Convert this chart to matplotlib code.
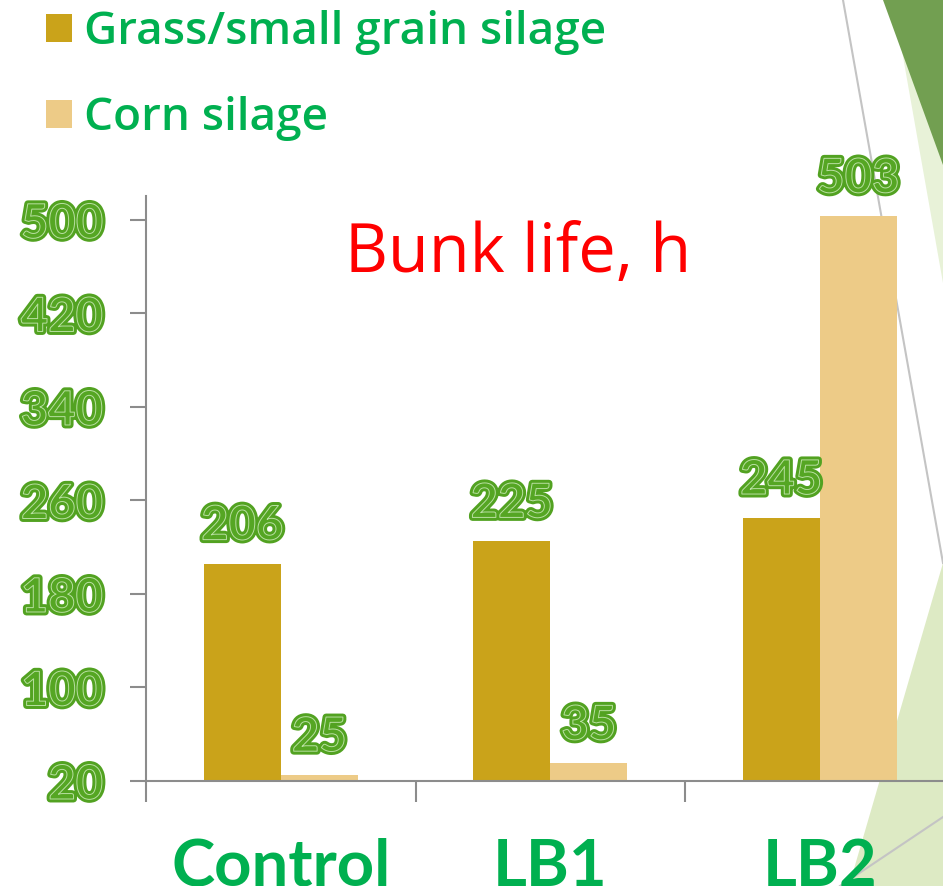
import matplotlib
matplotlib.use('Agg')
import matplotlib.pyplot as plt
import matplotlib.patheffects as pe
from matplotlib.patches import Polygon
from matplotlib.lines import Line2D
import numpy as np

categories = ['Control', 'LB1', 'LB2']
grass = [206, 225, 245]
corn = [25, 35, 503]
series_names = ['Grass/small grain silage', 'Corn silage']
yticks = [20, 100, 180, 260, 340, 420, 500]
title = 'Bunk life, h'

W, H = 943, 886
fig = plt.figure(figsize=(W / 100, H / 100), dpi=100)
fig.patch.set_facecolor('white')


def fx(x, y):
    return (x / W, 1 - y / H)


# decorative background shapes
fig.patches.append(Polygon([fx(893, 0), fx(943, 283), fx(943, 0)], closed=True,
                           transform=fig.transFigure, facecolor='#e8f2d8', edgecolor='none', zorder=-2))
fig.patches.append(Polygon([fx(883, 0), fx(943, 165), fx(943, 0)], closed=True,
                           transform=fig.transFigure, facecolor='#729f51', edgecolor='none', zorder=-2))
fig.patches.append(Polygon([fx(943, 563), fx(849, 886), fx(943, 886)], closed=True,
                           transform=fig.transFigure, facecolor='#ddeac4', edgecolor='none', zorder=-2))
for (x0, y0), (x1, y1) in [((843, 0), (943, 563)), ((943, 817), (840, 886))]:
    fig.lines.append(Line2D([x0 / W, x1 / W], [1 - y0 / H, 1 - y1 / H], transform=fig.transFigure,
                            color='#c4c4c4', linewidth=1.5, zorder=-1))

ax = fig.add_axes([146 / W, (H - 781) / H, (954.5 - 146) / W, (781 - 196) / H])
ax.patch.set_alpha(0)

x = np.arange(len(categories))
w = 0.286
c_grass = '#caa31a'
c_corn = '#edcb87'
b1 = ax.bar(x - w / 2, grass, w, color=c_grass, label=series_names[0], zorder=2)
b2 = ax.bar(x + w / 2, corn, w, color=c_corn, label=series_names[1], zorder=2)

ax.set_xlim(-0.5, 2.5)
ax.set_ylim(20, 520.5)

spine_c = '#8c8c8c'
for s in ['top', 'right']:
    ax.spines[s].set_visible(False)
for s in ['left', 'bottom']:
    ax.spines[s].set_color(spine_c)
    ax.spines[s].set_linewidth(1.5)
    ax.spines[s].set_zorder(3)

green_num = '#55a623'
outline = [pe.Stroke(linewidth=5, foreground='#52a221'), pe.Normal(),
           pe.Stroke(linewidth=0.7, foreground='#b9e0a2')]
font = 'Lato'
font2 = 'Open Sans'

ax.set_yticks(yticks)
ax.set_yticklabels([str(v) for v in yticks])
ax.tick_params(axis='y', length=11.5, width=1.5, color=spine_c, pad=19.5)
for lab in ax.get_yticklabels():
    lab.set_fontfamily(font)
    lab.set_fontweight('bold')
    lab.set_fontsize(34)
    lab.set_color(green_num)
    lab.set_path_effects(outline)

ax.set_xticks(x)
ax.set_xticklabels(categories)
ax.set_xticks([-0.5, 0.5, 1.5, 2.5], minor=True)
ax.tick_params(axis='x', which='major', length=0, pad=41)
ax.tick_params(axis='x', which='minor', length=15, width=1.5, color=spine_c)
for lab in ax.get_xticklabels():
    lab.set_fontfamily(font)
    lab.set_fontweight('bold')
    lab.set_fontsize(47)
    lab.set_color('#00b050')

for bars, vals in [(b1, grass), (b2, corn)]:
    for rect, v in zip(bars, vals):
        ax.annotate(str(v), (rect.get_x() + rect.get_width() / 2, v), xytext=(0, 11.5),
                    textcoords='offset points', ha='center', va='bottom',
                    fontfamily=font, fontweight='bold', fontsize=34, color=green_num,
                    path_effects=outline, zorder=4)

fig.text(518 / W, 1 - 254 / H, title, ha='center', va='center', color='#ff0000',
         fontfamily=font2, fontsize=48)

leg = fig.legend(handles=[b1, b2], labels=series_names, loc='upper left',
                 bbox_to_anchor=(46 / W, 1 - 10 / H), frameon=False,
                 prop={'family': font2, 'weight': 'semibold', 'size': 33},
                 handlelength=0.57, handleheight=0.57, handletextpad=0.27,
                 labelspacing=0.9, borderaxespad=0, borderpad=0)
for t in leg.get_texts():
    t.set_color('#00b050')

fig.savefig('out.png', dpi=100, facecolor='white')
